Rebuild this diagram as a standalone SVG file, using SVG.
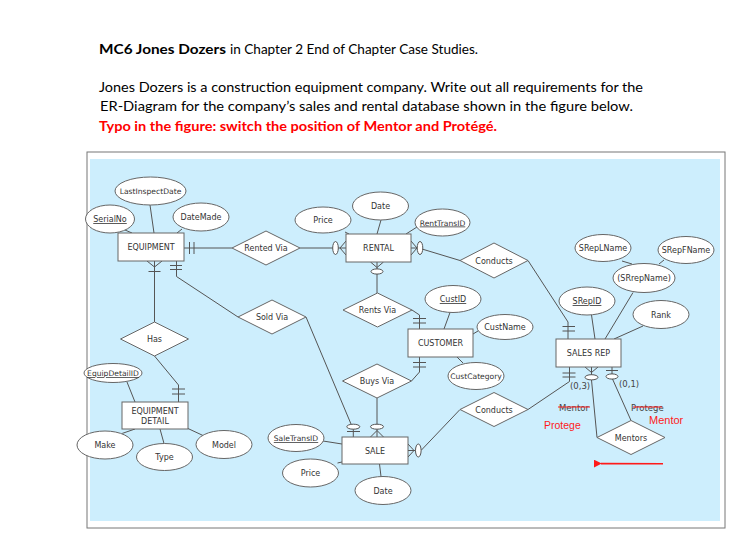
<svg xmlns="http://www.w3.org/2000/svg" width="746" height="556" viewBox="0 0 746 556">
<defs>
<style>
.hd{font-family:Lato,"Open Sans","Liberation Sans",sans-serif;font-size:14px;fill:#000}
.ent{fill:#fff;stroke:#666;stroke-width:1}
.rel{fill:#fff;stroke:#666;stroke-width:1}
.att{fill:#fff;stroke:#666;stroke-width:1}
.ln{fill:none;stroke:#555;stroke-width:1}
.ov{fill:#fff;stroke:#555;stroke-width:1}
.t{font-family:"DejaVu Sans",Verdana,sans-serif;font-size:8px;fill:#333;text-anchor:middle}
.s{font-size:7.6px}
.pk{text-decoration:underline}
.lb{font-family:"DejaVu Sans",Verdana,sans-serif;font-size:8.5px;fill:#444}
.red{font-family:"Liberation Sans",Arial,sans-serif;fill:#ff1a1a}
</style>
<marker id="ah" viewBox="0 0 10 10" refX="1" refY="5" markerWidth="5" markerHeight="5" orient="auto-start-reverse">
<path d="M10,0 L0,5 L10,10 z" fill="#ff1a1a"/>
</marker>
</defs>
<rect width="746" height="556" fill="#fff"/>
<g id="heading">
<text class="hd" x="99" y="54" font-weight="bold" textLength="127" lengthAdjust="spacingAndGlyphs">MC6 Jones Dozers</text>
<text class="hd" x="230" y="54" textLength="248" lengthAdjust="spacingAndGlyphs">in Chapter 2 End of Chapter Case Studies.</text>
<text class="hd" x="99" y="92" textLength="544" lengthAdjust="spacingAndGlyphs">Jones Dozers is a construction equipment company. Write out all requirements for the</text>
<text class="hd" x="100" y="111" textLength="533" lengthAdjust="spacingAndGlyphs">ER-Diagram for the company’s sales and rental database shown in the figure below.</text>
<text class="hd" x="99" y="131" font-weight="bold" style="fill:#ff0000" textLength="398" lengthAdjust="spacingAndGlyphs">Typo in the figure: switch the position of Mentor and Protégé.</text>
</g>
<g id="frame">
<rect x="87" y="152" width="638" height="376" fill="#fff" stroke="#777" stroke-width="1"/>
<rect x="90" y="159" width="630" height="362" fill="#cdeefd"/>
</g>
<g id="connectors">
<line class="ln" x1="150" y1="205" x2="154" y2="233"/>
<line class="ln" x1="125" y1="230" x2="132" y2="233"/>
<line class="ln" x1="182" y1="229" x2="177" y2="233"/>
<line class="ln" x1="345" y1="232" x2="349" y2="234"/>
<line class="ln" x1="381" y1="220" x2="377" y2="234"/>
<line class="ln" x1="417" y1="227" x2="406" y2="234"/>
<line class="ln" x1="622" y1="261" x2="632" y2="264"/>
<line class="ln" x1="664" y1="260" x2="659" y2="264"/>
<line class="ln" x1="633" y1="292.5" x2="605" y2="339"/>
<line class="ln" x1="591.5" y1="315" x2="595" y2="339"/>
<line class="ln" x1="643" y1="326" x2="614" y2="339"/>
<line class="ln" x1="450" y1="312.5" x2="444" y2="329"/>
<line class="ln" x1="478" y1="331" x2="473" y2="334"/>
<line class="ln" x1="463" y1="363" x2="457" y2="357"/>
<line class="ln" x1="127" y1="382" x2="135" y2="402"/>
<line class="ln" x1="122" y1="433.5" x2="135" y2="429"/>
<line class="ln" x1="164" y1="443.5" x2="160" y2="429"/>
<line class="ln" x1="203" y1="435.5" x2="188" y2="428.5"/>
<line class="ln" x1="323" y1="441" x2="342" y2="444"/>
<line class="ln" x1="337.5" y1="463" x2="342" y2="462"/>
<line class="ln" x1="381" y1="476.5" x2="379.5" y2="464"/>
<line class="ln" x1="184" y1="248" x2="232" y2="248"/>
<path class="ln" d="M189.5,242V254M194,242V254"/>
<line class="ln" x1="300" y1="248" x2="346" y2="248"/>
<path class="ln" d="M346,241L340,248L346,255"/>
<ellipse class="ov" cx="335.5" cy="248" rx="2.8" ry="6.5"/>
<path class="ln" d="M411,248H418M422,249L460,260.5"/>
<path class="ln" d="M411,241L417,248L411,255"/>
<ellipse class="ov" cx="420" cy="248" rx="2.8" ry="6.5"/>
<path class="ln" d="M528,260.5L568,322V339"/>
<path class="ln" d="M562.5,326.5H575M562.5,331H575"/>
<path class="ln" d="M377,262V293"/>
<path class="ln" d="M370.5,262L377,267.5L383.5,262"/>
<ellipse class="ov" cx="377" cy="271.5" rx="6" ry="2.6"/>
<path class="ln" d="M412,310L419.5,315V329"/>
<path class="ln" d="M413,318.5H426M413,323H426"/>
<path class="ln" d="M419.5,357V372L411.5,381"/>
<path class="ln" d="M413,362.5H426M413,367H426"/>
<path class="ln" d="M377,398V437"/>
<path class="ln" d="M370.5,437L377,430.5L383.5,437"/>
<ellipse class="ov" cx="377" cy="426.7" rx="6.5" ry="2.5"/>
<path class="ln" d="M176.5,261V276.5L238,317"/>
<path class="ln" d="M170,265.5H182M170,269.5H182"/>
<path class="ln" d="M306,317L351,424M353.3,429V437"/>
<path class="ln" d="M347,431.5H360"/>
<ellipse class="ov" cx="353.3" cy="426.7" rx="6.5" ry="2.5"/>
<path class="ln" d="M154.5,261V322"/>
<path class="ln" d="M147,261L154.5,267L162,261"/>
<path class="ln" d="M148.5,271.5H160.5"/>
<path class="ln" d="M154.5,356L178.5,385V402"/>
<path class="ln" d="M172,389H185M172,394H185"/>
<path class="ln" d="M460,409.5L421,450.5M408,450.5H416"/>
<path class="ln" d="M408,444L414,450.5L408,457"/>
<ellipse class="ov" cx="418.3" cy="450.5" rx="2.8" ry="6.5"/>
<path class="ln" d="M528,409.5L569.5,381.5V367"/>
<path class="ln" d="M562.5,373H575.5M562.5,377H575.5"/>
<path class="ln" d="M591.5,367V375M591.5,380L597,437.5"/>
<path class="ln" d="M585,367L591.5,372.5L598,367"/>
<ellipse class="ov" cx="591.5" cy="377.3" rx="6.5" ry="2.6"/>
<path class="ln" d="M612,367V374M612.5,379L631,420.5"/>
<path class="ln" d="M606,370.5H618"/>
<ellipse class="ov" cx="612" cy="376.5" rx="6" ry="2.6"/>
</g>
<g id="labels">
<text class="lb" x="570" y="389">(0,3)</text>
<text class="lb" x="619" y="387">(0,1)</text>
<text class="lb" x="559" y="410.5">Mentor</text>
<line x1="558" y1="407" x2="590" y2="407" stroke="#ff1a1a" stroke-width="1"/>
<text class="lb" x="631" y="410.5">Protege</text>
<line x1="633" y1="407" x2="662" y2="407" stroke="#ff1a1a" stroke-width="1"/>
<text class="red" x="544" y="429" font-size="10.5">Protege</text>
<text class="red" x="649" y="424" font-size="11">Mentor</text>
<line x1="663" y1="463.8" x2="601" y2="463.6" stroke="#ff1a1a" stroke-width="1.6" marker-end="url(#ah)"/>
</g>
<g id="equipment"><rect class="ent" x="118" y="233" width="66" height="28"/><text class="t" x="151" y="250">EQUIPMENT</text></g>
<g id="rental"><rect class="ent" x="346" y="234" width="65" height="28"/><text class="t" x="378.5" y="251">RENTAL</text></g>
<g id="customer"><rect class="ent" x="408" y="329" width="65" height="28"/><text class="t" x="440.5" y="346">CUSTOMER</text></g>
<g id="salesrep"><rect class="ent" x="556" y="339" width="65" height="28"/><text class="t" x="588.5" y="356">SALES REP</text></g>
<g id="equipmentdetail"><rect class="ent" x="122" y="402" width="66" height="27"/><text class="t" x="155" y="414">EQUIPMENT</text><text class="t" x="155" y="424">DETAIL</text></g>
<g id="sale"><rect class="ent" x="342" y="437" width="66" height="27"/><text class="t" x="375" y="453.5">SALE</text></g>
<g id="rentedvia"><polygon class="rel" points="232,248 266,231 300,248 266,265"/><text class="t" x="266" y="251">Rented Via</text></g>
<g id="conducts1"><polygon class="rel" points="460,260.5 494,243 528,260.5 494,278"/><text class="t" x="494" y="263.5">Conducts</text></g>
<g id="rentsvia"><polygon class="rel" points="343,310 377.5,293 412,310 377.5,327"/><text class="t" x="377.5" y="313">Rents Via</text></g>
<g id="soldvia"><polygon class="rel" points="238,317 272,300 306,317 272,334"/><text class="t" x="272" y="320">Sold Via</text></g>
<g id="has"><polygon class="rel" points="120.5,339 154.5,322 188.5,339 154.5,356"/><text class="t" x="154.5" y="342">Has</text></g>
<g id="buysvia"><polygon class="rel" points="342.5,381 377,364 411.5,381 377,398"/><text class="t" x="377" y="384">Buys Via</text></g>
<g id="conducts2"><polygon class="rel" points="460,409.5 494,392.5 528,409.5 494,426.5"/><text class="t" x="494" y="412.5">Conducts</text></g>
<g id="mentors"><polygon class="rel" points="597,437.5 631,420.5 665,437.5 631,454.5"/><text class="t" x="631" y="440.5">Mentors</text></g>
<g id="lastinspectdate"><ellipse class="att" cx="150.5" cy="191" rx="35.5" ry="14"/><text class="t s" x="150.5" y="194">LastInspectDate</text></g>
<g id="serialno"><ellipse class="att" cx="110" cy="219" rx="24.5" ry="14"/><text class="t pk" x="110" y="222">SerialNo</text></g>
<g id="datemade"><ellipse class="att" cx="201" cy="217" rx="28" ry="14"/><text class="t" x="201" y="220">DateMade</text></g>
<g id="price1"><ellipse class="att" cx="323" cy="220" rx="28" ry="13"/><text class="t" x="323" y="223">Price</text></g>
<g id="date1"><ellipse class="att" cx="380.5" cy="206" rx="28" ry="14"/><text class="t" x="380.5" y="209">Date</text></g>
<g id="renttransid"><ellipse class="att" cx="442.5" cy="222.5" rx="27.5" ry="13.5"/><text class="t pk s" x="442.5" y="225.5">RentTransID</text></g>
<g id="sreplname"><ellipse class="att" cx="603" cy="248" rx="28" ry="13.5"/><text class="t" x="603" y="251">SRepLName</text></g>
<g id="srepfname"><ellipse class="att" cx="686" cy="250" rx="28" ry="13.5"/><text class="t" x="686" y="253">SRepFName</text></g>
<g id="srepname"><ellipse class="att" cx="644" cy="278" rx="31" ry="14.5"/><text class="t" x="644" y="281">(SRrepName)</text></g>
<g id="srepid"><ellipse class="att" cx="587" cy="301" rx="28" ry="14"/><text class="t pk" x="587" y="304">SRepID</text></g>
<g id="rank"><ellipse class="att" cx="661" cy="314.5" rx="28" ry="14"/><text class="t" x="661" y="317.5">Rank</text></g>
<g id="custid"><ellipse class="att" cx="453" cy="299" rx="28" ry="13.5"/><text class="t pk" x="453" y="302">CustID</text></g>
<g id="custname"><ellipse class="att" cx="505" cy="327" rx="28" ry="12.5"/><text class="t" x="505" y="330">CustName</text></g>
<g id="custcategory"><ellipse class="att" cx="476" cy="376" rx="28" ry="13.5"/><text class="t s" x="476" y="379">CustCategory</text></g>
<g id="equipdetailid"><ellipse class="att" cx="113" cy="373" rx="29" ry="9.5"/><text class="t pk s" x="113" y="376">EquipDetailID</text></g>
<g id="make"><ellipse class="att" cx="105" cy="445" rx="28" ry="14"/><text class="t" x="105" y="448">Make</text></g>
<g id="type"><ellipse class="att" cx="164.5" cy="457" rx="28" ry="13.5"/><text class="t" x="164.5" y="460">Type</text></g>
<g id="model"><ellipse class="att" cx="224" cy="444.5" rx="28" ry="14"/><text class="t" x="224" y="447.5">Model</text></g>
<g id="saletransid"><ellipse class="att" cx="296" cy="438" rx="28" ry="13.5"/><text class="t pk s" x="296" y="441">SaleTransID</text></g>
<g id="price2"><ellipse class="att" cx="310.5" cy="473" rx="28" ry="14"/><text class="t" x="310.5" y="476">Price</text></g>
<g id="date2"><ellipse class="att" cx="383" cy="490.5" rx="28" ry="14"/><text class="t" x="383" y="493.5">Date</text></g>
</svg>
